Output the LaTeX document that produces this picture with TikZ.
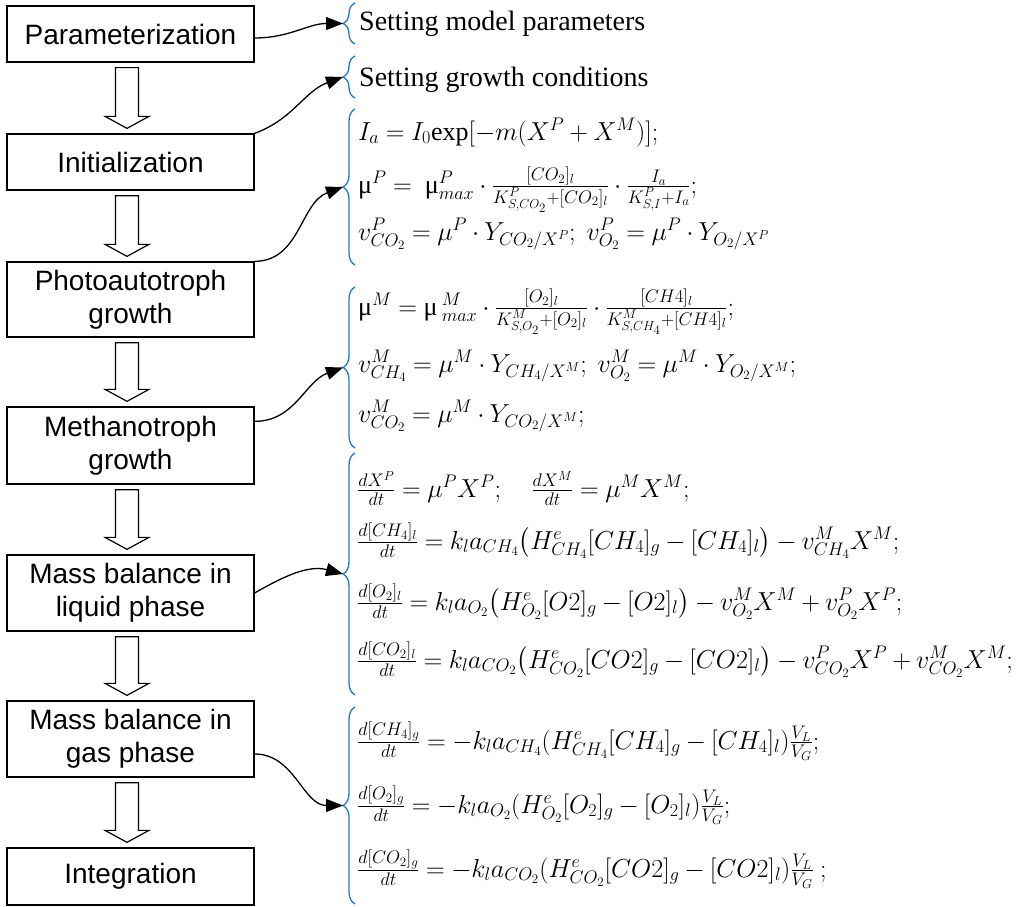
\RequirePackage{fix-cm}
\documentclass[tikz,border=0pt]{standalone}
\usepackage{amsmath}
\usepackage{fontspec}
\setmainfont{Liberation Serif}
\newfontfamily\boxfont{Liberation Sans}
\usetikzlibrary{decorations.pathreplacing,arrows.meta,calc}
\definecolor{braceblue}{RGB}{40,120,200}
\AtBeginDocument{\medmuskip=3.5mu plus 2mu minus 3.5mu\relax\thickmuskip=4.5mu plus 5mu\relax}
\newcommand{\hollowarrow}[2]{%
  \draw[blockarrow] let \p1=(#1.south), \p2=(#2.north) in
    (\x1-15pt,\y1-5pt) -- (\x1+8pt,\y1-5pt) -- (\x1+8pt,\y2+17pt) -- (\x1+18.5pt,\y2+17pt)
    -- (\x1-3.5pt,\y2+5pt) -- (\x1-25.5pt,\y2+17pt) -- (\x1-15pt,\y2+17pt) -- cycle;}
\begin{document}
\begin{tikzpicture}[x=1pt,y=-1pt,
  box/.style={draw, line width=1.3pt, minimum width=247pt, inner sep=0pt, align=center,
    font=\boxfont\fontsize{28}{33}\selectfont},
  blockarrow/.style={draw, line width=1.2pt, fill=white},
  link/.style={line width=1.3pt, -{Triangle[length=17pt,width=13pt]}},
  bracket/.style={decorate, decoration={brace, amplitude=12pt}, draw=braceblue, line width=1.3pt},
  txt/.style={anchor=base west, inner sep=0pt, font=\fontsize{28}{30}\selectfont},
  eq/.style={anchor=base west, inner sep=0pt, font=\fontsize{26}{30}\selectfont},
]
\useasboundingbox (0,0) rectangle (1023,907);

% process boxes
\node[box, minimum height=56pt] (param) at (130.5,34) {Parameterization};
\node[box, minimum height=56pt] (init) at (130.5,162) {Initialization};
\node[box, minimum height=75pt] (photo) at (130.5,299.5) {Photoautotroph\\growth};
\node[box, minimum height=77pt] (meth) at (130.5,445.5) {Methanotroph\\growth};
\node[box, minimum height=76pt] (liq) at (130.5,593) {Mass balance in\\liquid phase};
\node[box, minimum height=76pt] (gas) at (130.5,739) {Mass balance in\\gas phase};
\node[box, minimum height=57pt] (integ) at (130.5,876.5) {Integration};

\hollowarrow{param}{init}
\hollowarrow{init}{photo}
\hollowarrow{photo}{meth}
\hollowarrow{meth}{liq}
\hollowarrow{liq}{gas}
\hollowarrow{gas}{integ}

% braces
\draw[bracket] (355,44) -- (355,3);
\draw[bracket] (355,98) -- (355,56);
\draw[bracket] (355,265) -- (355,109);
\draw[bracket] (355,448) -- (355,287);
\draw[bracket] (355,695) -- (355,453);
\draw[bracket] (355,904) -- (355,707);
\coordinate (t1) at (343,23.5);
\coordinate (t2) at (343,77);
\coordinate (t3) at (343,187);
\coordinate (t4) at (343,367.5);
\coordinate (t5) at (343,574);
\coordinate (t6) at (343,805.5);

% texts
\node[txt] (s1) at (359,31) {Setting model parameters};
\node[txt] (s2) at (359,86) {Setting growth conditions};

\node[eq] (e31) at (358,140) {$I_a = I_0\mathrm{exp}[-m(X^P + X^M)];$};
\node[eq] (e32) at (358,193) {$\text{μ}^P =\ \text{μ}^P_{max}\cdot\frac{[CO_2]_l}{K^P_{S,CO_2}+[CO_2]_l}\cdot\frac{I_a}{K^P_{S,I}+I_a};$};
\node[eq] (e33) at (358,240) {$v^P_{CO_2} = \mu^P\cdot Y_{CO_2/X^P};\ v^P_{O_2} = \mu^P\cdot Y_{O_2/X^P}$};

\node[eq] (e41) at (358,315) {$\text{μ}^M = \text{μ}\,^M_{max}\cdot\frac{[O_2]_l}{K^M_{S,O_2}+[O_2]_l}\cdot\frac{[CH4]_l}{K^M_{S,CH_4}+[CH4]_l};$};
\node[eq] (e42) at (358,372) {$v^M_{CH_4} = \mu^M\cdot Y_{CH_4/X^M};\ v^M_{O_2} = \mu^M\cdot Y_{O_2/X^M};$};
\node[eq] (e43) at (358,422) {$v^M_{CO_2} = \mu^M\cdot Y_{CO_2/X^M};$};

\node[eq] (e51) at (357,497) {$\frac{dX^P}{dt} = \mu^P X^P;\quad \frac{dX^M}{dt} = \mu^M X^M;$};
\node[eq] (e52) at (357,549) {$\frac{d[CH_4]_l}{dt} = k_l a_{CH_4}\bigl(H^e_{CH_4}[CH_4]_g - [CH_4]_l\bigr) - v^M_{CH_4}X^M;$};
\node[eq] (e53) at (357,610) {$\frac{d[O_2]_l}{dt} = k_l a_{O_2}\bigl(H^e_{O_2}[O2]_g - [O2]_l\bigr) - v^M_{O_2}X^M + v^P_{O_2}X^P;$};
\node[eq] (e54) at (357,668) {$\frac{d[CO_2]_l}{dt} = k_l a_{CO_2}\bigl(H^e_{CO_2}[CO2]_g - [CO2]_l\bigr) - v^P_{CO_2}X^P + v^M_{CO_2}X^M;$};

\node[eq] (e61) at (357,749) {$\frac{d[CH_4]_g}{dt} = -k_l a_{CH_4}(H^e_{CH_4}[CH_4]_g - [CH_4]_l)\frac{V_L}{V_G};$};
\node[eq] (e62) at (357,813) {$\frac{d[O_2]_g}{dt} = -k_l a_{O_2}(H^e_{O_2}[O_2]_g - [O_2]_l)\frac{V_L}{V_G};$};
\node[eq] (e63) at (357,877) {$\frac{d[CO_2]_g}{dt} = -k_l a_{CO_2}(H^e_{CO_2}[CO2]_g - [CO2]_l)\frac{V_L}{V_G}\ ;$};

% connectors
\draw[link] ([yshift=-4pt]param.east) to[out=0,in=180] (t1);
\draw[link] (init.north east) to[out=20,in=200] (t2);
\draw[link] (photo.north east) to[out=0,in=200] (t3);
\draw[link] ([yshift=-15pt]meth.north east) to[out=0,in=200] (t4);
\draw[link] (liq.east) to[out=30,in=165] (t5);
\draw[link] ([yshift=-15pt]gas.east) to[out=0,in=180] (t6);
\end{tikzpicture}
\end{document}
